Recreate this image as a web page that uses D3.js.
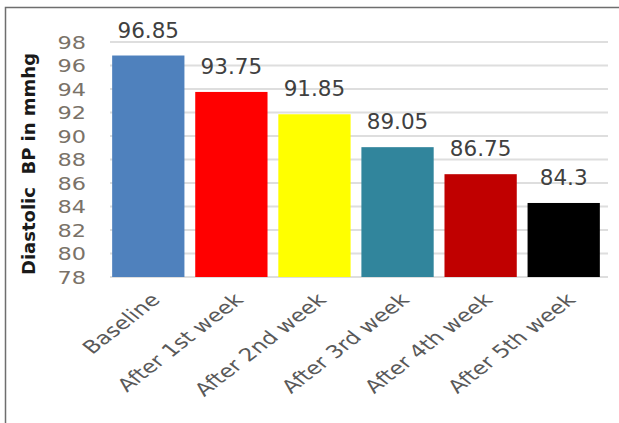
<!DOCTYPE html>
<html>
<head>
<meta charset="utf-8">
<script src="https://cdn.jsdelivr.net/npm/d3@7"></script>
<style>
  html, body { margin: 0; padding: 0; background: #fff; }
  svg { display: block; }
</style>
</head>
<body>
<div id="chart--wrapper"></div>
<script>
// data
const categories = ['Baseline', 'After 1st week', 'After 2nd week', 'After 3rd week', 'After 4th week', 'After 5th week'];
const values = [96.85, 93.75, 91.85, 89.05, 86.75, 84.3];
const valueLabels = ['96.85', '93.75', '91.85', '89.05', '86.75', '84.3'];
const barColors = ['#4f81bd', '#ff0000', '#ffff00', '#31859c', '#c00000', '#000000'];
const yTicks = [78, 80, 82, 84, 86, 88, 90, 92, 94, 96, 98];
const yTitle = 'Diastolic  BP in mmhg';

const width = 619;
const height = 423;
// the picture looks stretched sideways, so the texts get a bit of x scale
const stretch = 1.28;

const svg = d3.select('#chart--wrapper').append('svg')
  .attr('width', width)
  .attr('height', height);

// frame (only top and left edges show)
svg.append('path')
  .attr('d', 'M5.5,' + height + 'V7.5H' + width)
  .attr('fill', 'none')
  .attr('stroke', '#6e6e6e')
  .attr('stroke-width', 1.5);

const xScale = d3.scaleBand()
  .domain(categories)
  .range([108, 604])
  .paddingInner(0.13)
  .paddingOuter(0.05);

const yScale = d3.scaleLinear()
  .domain([78, 98])
  .range([277, 42]);

// grid lines
svg.append('g')
  .selectAll('line')
  .data(yTicks)
  .join('line')
  .attr('x1', 110)
  .attr('x2', 608)
  .attr('y1', d => yScale(d))
  .attr('y2', d => yScale(d))
  .attr('stroke', '#dedede')
  .attr('stroke-width', 2);

// bars
svg.append('g')
  .selectAll('rect')
  .data(values)
  .join('rect')
  .attr('x', (d, i) => xScale(categories[i]))
  .attr('y', d => yScale(d))
  .attr('width', xScale.bandwidth())
  .attr('height', d => yScale(78) - yScale(d))
  .attr('fill', (d, i) => barColors[i]);

// value labels
svg.append('g')
  .selectAll('text')
  .data(values)
  .join('text')
  .attr('x', (d, i) => xScale(categories[i]) + xScale.bandwidth() / 2)
  .attr('y', d => yScale(d) - 18)
  .attr('text-anchor', 'middle')
  .style('font-family', 'DejaVu Sans')
  .style('font-size', '21.5px')
  .style('fill', '#404040')
  .text((d, i) => valueLabels[i]);

// y axis labels
const axisy = d3.axisLeft(yScale).tickValues(yTicks).tickSize(0).tickPadding(0);
const y = svg.append('g')
  .attr('transform', 'translate(86,0)')
  .call(axisy);
y.select('.domain').remove();
y.selectAll('text')
  .attr('x', null)
  .attr('dy', null)
  .attr('transform', 'scale(' + stretch + ',1)')
  .attr('dominant-baseline', 'central')
  .style('font-family', 'DejaVu Sans')
  .style('font-size', '17.5px')
  .style('fill', '#7a7268');

// x axis labels
svg.append('g')
  .selectAll('text')
  .data(categories)
  .join('text')
  .attr('transform', d => 'translate(' + (xScale(d) + xScale.bandwidth() / 2 + 13) + ',' + 301 + ') scale(' + stretch + ',1) rotate(-45)')
  .attr('text-anchor', 'end')
  .style('font-family', 'DejaVu Sans')
  .style('font-size', '18px')
  .style('fill', '#595959')
  .text(d => d);

// y title
svg.append('text')
  .attr('transform', 'translate(35,' + 164 + ') rotate(-90)')
  .attr('text-anchor', 'middle')
  .style('font-family', 'DejaVu Sans')
  .style('font-weight', 'bold')
  .style('font-size', '18px')
  .style('white-space', 'pre')
  .style('fill', '#1a1a1a')
  .text(yTitle);
</script>
</body>
</html>
